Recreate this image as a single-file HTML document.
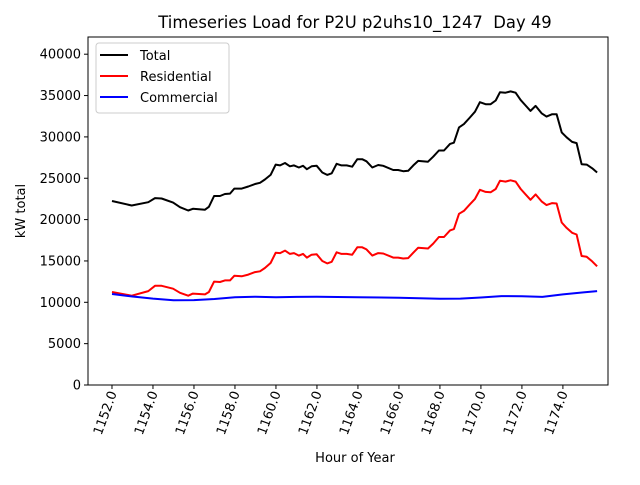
<!DOCTYPE html>
<html><head><meta charset="utf-8"><style>
body{margin:0;background:#fff}
svg{font-family:"DejaVu Sans","Liberation Sans",sans-serif}
</style></head><body>
<svg id="chart" width="640" height="480" viewBox="0 0 640 480" xmlns="http://www.w3.org/2000/svg">
<rect width="640" height="480" fill="#fff"/>
<text x="355" y="28" font-size="16.4" text-anchor="middle" fill="#000">Timeseries Load for P2U p2uhs10_1247&#160; Day 49</text>
<g id="grid"></g>
<g id="series"></g>
<rect x="88" y="37" width="520" height="348" fill="none" stroke="#000" stroke-width="1"/>
<g id="axes"></g>
<text transform="translate(25,211) rotate(-90)" font-size="13" text-anchor="middle">kW total</text>
<text x="355" y="462" font-size="13" text-anchor="middle">Hour of Year</text>
<g>
<rect x="96" y="43" width="133" height="70" rx="3" fill="#fff" fill-opacity="0.8" stroke="#ccc"/>
<line x1="100" y1="55" x2="128" y2="55" stroke="#000" stroke-width="2"/>
<text x="140" y="60" font-size="13">Total</text>
<line x1="100" y1="76" x2="128" y2="76" stroke="#f00" stroke-width="2"/>
<text x="140" y="81" font-size="13">Residential</text>
<line x1="100" y1="97" x2="128" y2="97" stroke="#00f" stroke-width="2"/>
<text x="140" y="102" font-size="13">Commercial</text>
</g>
</svg>
<script>
const hours=[1152.0,1152.96,1153.77,1154.1,1154.42,1154.98,1155.32,1155.72,1155.95,1156.54,1156.73,1156.98,1157.27,1157.51,1157.76,1157.97,1158.33,1158.65,1158.98,1159.22,1159.46,1159.74,1159.99,1160.2,1160.44,1160.68,1160.88,1161.12,1161.32,1161.51,1161.74,1161.99,1162.26,1162.5,1162.72,1162.96,1163.2,1163.45,1163.72,1163.97,1164.21,1164.42,1164.7,1164.99,1165.23,1165.72,1165.96,1166.21,1166.45,1166.7,1166.94,1167.42,1167.67,1167.95,1168.2,1168.49,1168.68,1168.93,1169.17,1169.46,1169.71,1169.95,1170.23,1170.47,1170.72,1170.93,1171.2,1171.45,1171.69,1171.94,1172.18,1172.42,1172.67,1172.96,1173.2,1173.48,1173.69,1173.94,1174.18,1174.45,1174.67,1174.91,1175.16,1175.43,1175.67];
const totalLoad=[22250,21700,22100,22600,22550,22050,21500,21100,21300,21200,21550,22850,22850,23100,23150,23750,23750,24000,24300,24450,24850,25400,26650,26550,26850,26450,26550,26300,26500,26100,26450,26500,25700,25400,25600,26750,26550,26550,26400,27300,27300,27050,26300,26600,26500,26000,26000,25850,25900,26550,27100,27000,27600,28350,28350,29150,29300,31150,31550,32350,33050,34200,33950,33950,34400,35400,35350,35500,35350,34450,33800,33150,33750,32850,32450,32750,32750,30550,29950,29400,29250,26700,26650,26200,25700];
const residentialLoad=[11250,10800,11350,12000,12000,11650,11150,10800,11050,10950,11250,12500,12450,12650,12650,13200,13150,13350,13650,13750,14150,14750,16000,15950,16250,15850,15950,15650,15850,15400,15750,15800,15000,14700,14900,16050,15850,15850,15750,16650,16650,16400,15650,15950,15900,15400,15400,15300,15350,16000,16600,16500,17100,17900,17900,18700,18850,20700,21050,21850,22500,23600,23350,23300,23700,24700,24600,24750,24600,23700,23050,22400,23050,22200,21750,22000,21950,19650,19000,18400,18200,15600,15500,14950,14350];
const commHours=[1152,1153,1154,1155,1156,1157,1158,1159,1160,1161,1162,1164,1166,1168,1169,1170,1171,1172,1173,1174,1175,1175.67];
const commercialLoad=[11000,10700,10450,10250,10270,10400,10600,10680,10600,10650,10680,10620,10550,10420,10450,10580,10750,10730,10650,10950,11200,11350];
const xTicks=[1152,1154,1156,1158,1160,1162,1164,1166,1168,1170,1172,1174];
const yTicks=[0,5000,10000,15000,20000,25000,30000,35000,40000];
const NS="http://www.w3.org/2000/svg";
const X0=88,X1=608,Y0=385,Y1=37,xmin=1150.83,xmax=1176.2,ymin=0,ymax=42080;
const xs=v=>X0+(v-xmin)/(xmax-xmin)*(X1-X0);
const ys=v=>Y0-(v-ymin)/(ymax-ymin)*(Y0-Y1);
function mk(t,a){const e=document.createElementNS(NS,t);for(const k in a)e.setAttribute(k,a[k]);return e;}
const ax=document.getElementById('axes'),sg=document.getElementById('series');
xTicks.forEach(t=>{
  const x=xs(t);
  const l=mk('line',{x1:x,y1:Y0,x2:x,y2:Y0+4,stroke:'#000'});
  
  
  ax.appendChild(l);
  const tx=mk('text',{transform:`translate(${x+5},${Y0+8}) rotate(-70)`,'font-size':'13','text-anchor':'end'});
  
  
  tx.textContent=t.toFixed(1);ax.appendChild(tx);
});
yTicks.forEach(t=>{
  const y=ys(t);
  const l=mk('line',{x1:X0-4,y1:y,x2:X0,y2:y,stroke:'#000'});
  
  
  ax.appendChild(l);
  const tx=mk('text',{x:X0-7,y:y+4.5,'font-size':'13','text-anchor':'end'});
  
  
  tx.textContent=String(t);ax.appendChild(tx);
});
function line(hx,vals,color,name){
  const d=vals.map((v,i)=>(i?'L':'M')+xs(hx[i]).toFixed(1)+','+ys(v).toFixed(1)).join('');
  const p=mk('path',{d:d,fill:'none',stroke:color,'stroke-width':'2','stroke-linejoin':'round'});
  
  
  sg.appendChild(p);
}
line(hours,totalLoad,'#000','total-line');
line(hours,residentialLoad,'#f00','residential-line');
line(commHours,commercialLoad,'#00f','commercial-line');
</script>
</body></html>
